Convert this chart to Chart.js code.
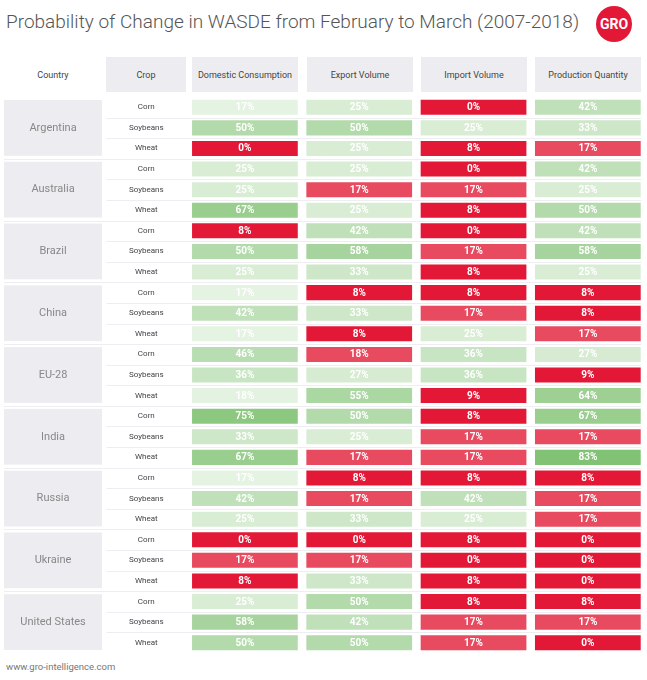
<!DOCTYPE html>
<html>
<head>
<meta charset="utf-8">
<script src="https://cdn.jsdelivr.net/npm/chart.js@4.4.0/dist/chart.umd.min.js"></script>
<style>
  body { margin: 0; background: #fff; font-family: Roboto, sans-serif; }
  #wrap { position: relative; width: 647px; height: 680px; }
  h1 { position: absolute; left: 6px; top: 10px; margin: 0; font-size: 19px; font-weight: 300; color: #555; }
  .logo { position: absolute; left: 596px; top: 6px; width: 36px; height: 36px; border-radius: 50%;
          background: #e31837; color: #fff; font: bold 14px Roboto; text-align: center; line-height: 36px; }
  .hd { position: absolute; top: 57px; height: 35px; background: #ededf1; color: #444; font-size: 9px;
        display: flex; align-items: center; justify-content: center; }
  .foot { position: absolute; left: 6px; top: 661px; font-size: 9.5px; color: #777; }
  #c { position: absolute; left: 0; top: 97px; }
</style>
</head>
<body>
<div id="wrap">
  <h1>Probability of Change in WASDE from February to March (2007-2018)</h1>
  <div class="logo">GRO</div>
  <div class="hd" style="left:4px;width:98px;background:#fff">Country</div>
  <div class="hd" style="left:106px;width:80px">Crop</div>
  <div class="hd" style="left:192px;width:106px">Domestic Consumption</div>
  <div class="hd" style="left:307px;width:106px">Export Volume</div>
  <div class="hd" style="left:421px;width:106px">Import Volume</div>
  <div class="hd" style="left:535px;width:106px">Production Quantity</div>
  <canvas id="c" width="647" height="556"></canvas>
  <div class="foot">www.gro-intelligence.com</div>
</div>
<script>
const countries = ['Argentina', 'Australia', 'Brazil', 'China', 'EU-28', 'India', 'Russia', 'Ukraine', 'United States'];
const crops = ['Corn', 'Soybeans', 'Wheat'];
const measures = ['Domestic Consumption', 'Export Volume', 'Import Volume', 'Production Quantity'];

// one entry per country/crop row, in order
const domestic = [17, 50, 0, 25, 25, 67, 8, 50, 25, 17, 42, 17, 46, 36, 18, 75, 33, 67, 17, 42, 25, 0, 17, 8, 25, 58, 50];
const exportVol = [25, 50, 25, 25, 17, 25, 42, 58, 33, 8, 33, 8, 18, 27, 55, 50, 25, 17, 8, 17, 33, 0, 17, 33, 50, 42, 50];
const importVol = [0, 25, 8, 0, 17, 8, 0, 17, 8, 8, 17, 25, 36, 36, 9, 8, 17, 17, 8, 42, 25, 8, 0, 8, 8, 17, 17];
const production = [42, 33, 17, 42, 25, 50, 42, 58, 25, 8, 8, 17, 27, 9, 64, 67, 17, 83, 8, 17, 17, 0, 0, 0, 8, 17, 0];
// 1 = shown as unlikely (red) in the source
const lowDomestic = [0, 0, 1, 0, 0, 0, 1, 0, 0, 0, 0, 0, 0, 0, 0, 0, 0, 0, 0, 0, 0, 1, 1, 1, 0, 0, 0];
const lowExport = [0, 0, 0, 0, 1, 0, 0, 0, 0, 1, 0, 1, 1, 0, 0, 0, 0, 1, 1, 1, 0, 1, 1, 0, 0, 0, 0];
const lowImport = [1, 0, 1, 1, 1, 1, 1, 1, 1, 1, 1, 0, 0, 0, 1, 1, 1, 1, 1, 0, 0, 1, 1, 1, 1, 1, 1];
const lowProduction = [0, 0, 1, 0, 0, 0, 0, 0, 0, 1, 1, 1, 0, 1, 0, 0, 1, 0, 1, 1, 1, 1, 1, 1, 1, 1, 1];

const series = [domestic, exportVol, importVol, production];
const lows = [lowDomestic, lowExport, lowImport, lowProduction];
const rows = [];
countries.forEach(c => crops.forEach(k => rows.push(c + '|' + k)));

function cellColor(v, low) {
    if (low) return v <= 10 ? '#e31837' : '#e84a60';
    const t = Math.min(v / 90, 1);
    const mix = (a, b) => Math.round(255 + (b - 255) * t);
    return `rgb(${mix(255, 118)},${mix(255, 189)},${mix(255, 104)})`;
}

const datasets = series.map((vals, c) => ({
    label: measures[c],
    data: vals.map(() => [c, c + 0.925]),
    values: vals,
    backgroundColor: vals.map((v, i) => cellColor(v, lows[c][i])),
    borderWidth: 0,
    grouped: false,
    categoryPercentage: 1,
    barPercentage: 0.73
}));

const tablePlugin = {
    id: 'table',
    beforeDatasetsDraw(chart) {
        const { ctx, scales: { x, y } } = chart;
        const step = y.getPixelForValue(1) - y.getPixelForValue(0);
        ctx.save();
        // row separators
        ctx.strokeStyle = '#eeeef2';
        ctx.lineWidth = 1;
        rows.forEach((r, i) => {
            const yb = Math.round(y.getPixelForValue(i) + step / 2) + 0.5;
            const x0 = i % 3 === 2 ? x.getPixelForValue(-1.645) : x.getPixelForValue(-0.75);
            ctx.beginPath(); ctx.moveTo(x0, yb); ctx.lineTo(x.getPixelForValue(3.93), yb); ctx.stroke();
        });
        // country boxes
        countries.forEach((c, g) => {
            const top = y.getPixelForValue(g * 3) - step / 2 + 3;
            const bot = y.getPixelForValue(g * 3 + 2) + step / 2 - 3;
            const l = x.getPixelForValue(-1.645), rr = x.getPixelForValue(-0.787);
            ctx.fillStyle = '#ededf1';
            ctx.fillRect(l, top, rr - l, bot - top);
            ctx.fillStyle = '#888';
            ctx.font = '11px Roboto';
            ctx.textAlign = 'center'; ctx.textBaseline = 'middle';
            ctx.fillText(c, (l + rr) / 2, (top + bot) / 2);
        });
        // crop labels
        ctx.fillStyle = '#444';
        ctx.font = '8px Roboto';
        rows.forEach((r, i) => ctx.fillText(r.split('|')[1], x.getPixelForValue(-0.4), y.getPixelForValue(i)));
        ctx.restore();
    },
    afterDatasetsDraw(chart) {
        const { ctx } = chart;
        ctx.save();
        ctx.fillStyle = '#fff';
        ctx.font = 'bold 10px Roboto';
        ctx.textAlign = 'center'; ctx.textBaseline = 'middle';
        chart.data.datasets.forEach((ds, d) => {
            chart.getDatasetMeta(d).data.forEach((bar, i) => {
                const p = bar.getProps(['x', 'base', 'y']);
                ctx.fillText(ds.values[i] + '%', (p.x + p.base) / 2, p.y + 0.5);
            });
        });
        ctx.restore();
    }
};

new Chart(document.getElementById('c'), {
    type: 'bar',
    data: { labels: rows, datasets },
    options: {
        indexAxis: 'y',
        responsive: false,
        animation: false,
        layout: { padding: 0 },
        scales: {
            x: { type: 'linear', min: -1.68, max: 3.98, display: false },
            y: { type: 'category', display: false }
        },
        plugins: { legend: { display: false }, tooltip: { enabled: false } }
    },
    plugins: [tablePlugin]
});
</script>
</body>
</html>
